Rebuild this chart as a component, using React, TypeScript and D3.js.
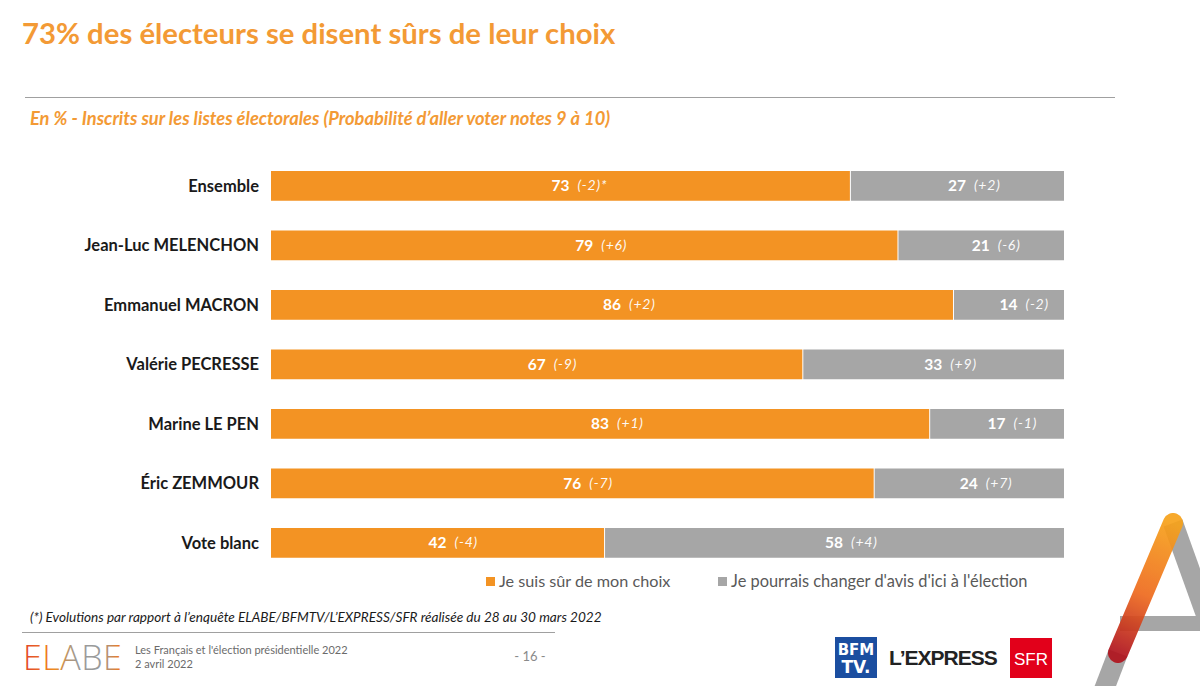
import React from "react";
import * as d3 from "d3";

const categories = [
  "Ensemble",
  "Jean-Luc MELENCHON",
  "Emmanuel MACRON",
  "Valérie PECRESSE",
  "Marine LE PEN",
  "Éric ZEMMOUR",
  "Vote blanc",
];
const sureValues = [73, 79, 86, 67, 83, 76, 42];
const changeValues = [27, 21, 14, 33, 17, 24, 58];
const sureDeltas = ["(-2)*", "(+6)", "(+2)", "(-9)", "(+1)", "(-7)", "(-4)"];
const changeDeltas = ["(+2)", "(-6)", "(-2)", "(+9)", "(-1)", "(+7)", "(+4)"];
const seriesNames = ["Je suis sûr de mon choix", "Je pourrais changer d'avis d'ici à l'élection"];

const ORANGE = "#F39323";
const GRAY = "#A6A6A6";
const TITLE = "#F39A35";
const FONT = "Lato, 'Open Sans', sans-serif";

export default function App() {
  const W = 1200;
  const H = 686;
  const x = d3.scaleLinear().domain([0, 100]).range([271, 1064]);
  const y = d3.scaleBand<string>().domain(categories).range([171, 557.75]).paddingInner(0.5).paddingOuter(0);
  const bw = y.bandwidth();

  const rows = categories.map((c, i) => ({
    c,
    sure: sureValues[i],
    change: changeValues[i],
    sd: sureDeltas[i],
    cd: changeDeltas[i],
  }));

  const label = (cx: number, cy: number, v: number, d: string) => (
    <g>
      <text x={cx} y={cy} dy="0.36em" textAnchor="middle" fill="#fff" fontSize={15.5} fontWeight={700}>
        {v}
      </text>
      <text x={cx + 17} y={cy} dy="0.3em" fill="#fff" fontSize={14} fontStyle="italic" letterSpacing={0.8} opacity={0.95}>
        {d}
      </text>
    </g>
  );

  return (
    <svg
      width={W}
      height={H}
      style={{ position: "absolute", left: 0, top: 0, background: "#fff" }}
      fontFamily={FONT}
    >
      <defs>
        <linearGradient id="aGrad" x1="1173" y1="523" x2="1118" y2="653" gradientUnits="userSpaceOnUse">
          <stop offset="0" stopColor="#F7A21B" />
          <stop offset="0.55" stopColor="#EE6A1E" />
          <stop offset="1" stopColor="#B0141E" />
        </linearGradient>
        <linearGradient id="elabeGrad" x1="25" y1="0" x2="120" y2="0" gradientUnits="userSpaceOnUse">
          <stop offset="0" stopColor="#E2452A" />
          <stop offset="0.3" stopColor="#F08A1E" />
          <stop offset="0.55" stopColor="#9A9A9A" />
          <stop offset="0.8" stopColor="#9A9A9A" />
          <stop offset="1" stopColor="#EE7A1E" />
        </linearGradient>
      </defs>

      {/* Title */}
      <text x={22} y={44} fontSize={29.3} fontWeight={700} fill={TITLE}>
        73% des électeurs se disent sûrs de leur choix
      </text>
      <line x1={25} x2={1115} y1={97.5} y2={97.5} stroke="#A0A0A0" strokeWidth={1.2} />
      <text x={30} y={125} fontSize={18.3} fontWeight={700} fontStyle="italic" fill={TITLE}>
        En % - Inscrits sur les listes électorales (Probabilité d’aller voter notes 9 à 10)
      </text>

      {/* Bars */}
      {rows.map((r) => {
        const y0 = y(r.c)!;
        const cy = y0 + bw / 2;
        const xMid1 = (x(0) + x(r.sure)) / 2;
        const xMid2 = (x(r.sure) + x(r.sure + r.change)) / 2;
        return (
          <g key={r.c}>
            <text x={259} y={cy} dy="0.35em" textAnchor="end" fontSize={16.5} fontWeight={700} fill="#1a1a1a">
              {r.c}
            </text>
            <rect x={x(0)} y={y0} width={x(r.sure) - x(0)} height={bw} fill={ORANGE} />
            <rect
              x={x(r.sure) + 1}
              y={y0}
              width={x(r.sure + r.change) - x(r.sure) - 1}
              height={bw}
              fill={GRAY}
            />
            {label(xMid1, cy, r.sure, r.sd)}
            {label(xMid2, cy, r.change, r.cd)}
          </g>
        );
      })}

      {/* Legend */}
      <rect x={486} y={577} width={9} height={9} fill={ORANGE} />
      <text x={499} y={587} fontSize={16.2} fill="#595959">{seriesNames[0]}</text>
      <rect x={718} y={577} width={9} height={9} fill={GRAY} />
      <text x={731} y={587} fontSize={16.4} fill="#595959">{seriesNames[1]}</text>

      {/* Footnote */}
      <text x={30} y={622} fontSize={13.6} fontStyle="italic" fill="#1a1a1a">
        (*) Evolutions par rapport à l’enquête ELABE/BFMTV/L’EXPRESS/SFR réalisée du 28 au 30 mars 2022
      </text>
      <line x1={22} x2={555} y1={632.5} y2={632.5} stroke="#A0A0A0" strokeWidth={1} />

      {/* Footer */}
      <text x={23} y={670} fontSize={34} fill="url(#elabeGrad)" letterSpacing={0.5} fontFamily="'Open Sans', sans-serif" fontWeight={300}>
        ELABE
      </text>
      <text x={135} y={654} fontSize={11} fill="#6b6b6b">Les Français et l'élection présidentielle 2022</text>
      <text x={135} y={668} fontSize={11} fill="#6b6b6b">2 avril 2022</text>
      <text x={530} y={661} fontSize={13} fill="#8a8a8a" textAnchor="middle">- 16 -</text>

      {/* Partner logos */}
      <rect x={835} y={637} width={42} height={41} fill="#1B4EA0" />
      <text x={856} y={655} fontSize={15} fontWeight={900} fill="#fff" textAnchor="middle" fontFamily="'DejaVu Sans', sans-serif">BFM</text>
      <text x={856} y={673} fontSize={17} fontWeight={900} fill="#fff" textAnchor="middle" fontFamily="'DejaVu Sans', sans-serif">TV.</text>
      <text x={889} y={665} fontSize={21} fontWeight={900} fill="#222" fontFamily="'Liberation Sans', sans-serif" letterSpacing={-1}>L’EXPRESS</text>
      <rect x={1010} y={638} width={42} height={40} fill="#E2001A" />
      <text x={1031} y={665} fontSize={17} fontWeight={400} fill="#fff" textAnchor="middle" fontFamily="'Liberation Sans', sans-serif">SFR</text>

      {/* Decorative A */}
      <line x1={1173} y1={523} x2={1215} y2={640} stroke="#A6A6A6" strokeWidth={20} />
      <rect x={1120} y={616} width={80} height={15} fill="#A6A6A6" />
      <line x1={1118} y1={653} x2={1100} y2={700} stroke="#A6A6A6" strokeWidth={20} />
      <line x1={1173} y1={523} x2={1118} y2={653} stroke="url(#aGrad)" strokeWidth={20} strokeLinecap="round" opacity={0.92} />
    </svg>
  );
}
